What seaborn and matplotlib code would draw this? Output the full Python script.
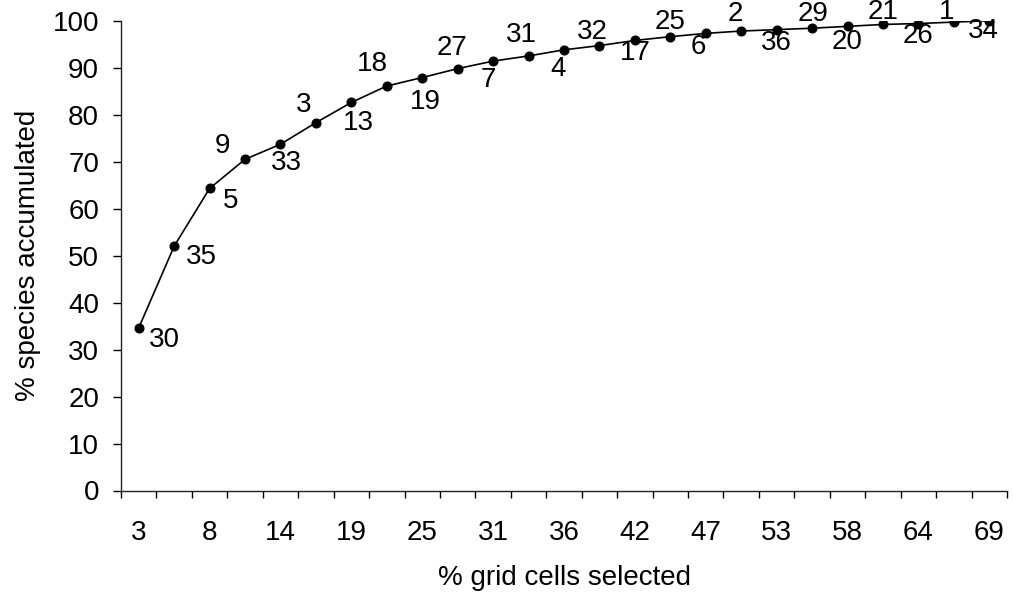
import numpy as np
import pandas as pd
import matplotlib
matplotlib.use("Agg")
import matplotlib.pyplot as plt
import seaborn as sns

# % of grid cells selected at each step (only every other one is labelled on the axis)
grid_pct = [3, 6, 8, 11, 14, 17, 19, 22, 25, 28, 31, 33, 36,
            39, 42, 44, 47, 50, 53, 56, 58, 61, 64, 67, 69]
# cumulative % of species accumulated
species_pct = [34.6, 52.0, 64.3, 70.5, 73.7, 78.3, 82.6, 86.1, 87.9, 89.8,
               91.4, 92.5, 93.8, 94.7, 95.8, 96.6, 97.3, 97.8, 98.1, 98.4,
               98.8, 99.2, 99.4, 99.7, 100.0]
# id of the grid cell added at each step
cell_ids = ["30", "35", "5", "9", "33", "3", "13", "18", "19", "27", "7", "31", "4",
            "32", "17", "25", "6", "2", "36", "29", "20", "21", "26", "1", "34"]

# label placement around each point, in pixels (right, down)
label_offsets = [(26, 12), (27, 11), (21, 13), (-23, -13), (6, 19), (-12, -18),
                 (7, 21), (-14, -22), (3, 24), (-6, -21), (-5, 19), (-7, -21),
                 (-6, 19), (-7, -14), (0, 13), (0, -15), (-7, 14), (-6, -17),
                 (0, 13), (1, -14), (0, 16), (0, -12), (0, 12), (-7, -10), (-6, 10)]


def main():
    sns.set_style("ticks")
    plt.rcParams["font.family"] = ["Liberation Sans", "DejaVu Sans"]
    plt.rcParams["text.color"] = "black"
    fs = 20

    df = pd.DataFrame({"step": np.arange(len(species_pct)), "species": species_pct})

    fig = plt.figure(figsize=(10.13, 5.96), dpi=100)
    ax = fig.add_axes([121 / 1013, 105.5 / 596, 886 / 1013, 469.8 / 596])

    sns.lineplot(data=df, x="step", y="species", ax=ax, color="black", linewidth=1.2,
                 marker="o", markersize=6.5, markeredgecolor="black", markerfacecolor="black")

    px = 0.72  # points per pixel at 100 dpi
    for i, lab in enumerate(cell_ids):
        dx, dy = label_offsets[i]
        ax.annotate(lab, (i, species_pct[i]), xytext=(dx * px, -dy * px),
                    textcoords="offset points", ha="center", va="center",
                    fontsize=fs, color="black")

    n = len(species_pct)
    ax.set_xlim(-0.5, n - 0.5)
    ax.set_ylim(0, 100)
    ax.set_yticks(np.arange(0, 101, 10))
    ax.tick_params(axis="y", labelsize=fs, length=5.8, width=1, pad=10,
                   colors="black", labelcolor="black")

    # tick marks at category boundaries, labels at category centres
    ax.set_xticks(np.arange(n + 1) - 0.5)
    ax.set_xticklabels([])
    ax.tick_params(axis="x", which="major", length=5, width=1, colors="black")
    centres = np.arange(0, n, 2)
    ax.set_xticks(centres, minor=True)
    ax.set_xticklabels([str(grid_pct[i]) for i in centres], minor=True)
    ax.tick_params(axis="x", which="minor", length=0, labelsize=fs, pad=21,
                   labelcolor="black")

    ax.set_xlabel("% grid cells selected", fontsize=fs, color="black")
    ax.set_ylabel("% species accumulated", fontsize=fs, color="black")
    ax.xaxis.label.set_va("center")
    ax.yaxis.label.set_va("center")
    ax.xaxis.set_label_coords(0.5, -0.186)
    ax.yaxis.set_label_coords(-0.105, 0.5)

    sns.despine(ax=ax)
    for s in ["left", "bottom"]:
        ax.spines[s].set_color("#222222")
        ax.spines[s].set_linewidth(1)

    fig.savefig("out.png", dpi=100)


if __name__ == "__main__":
    main()
